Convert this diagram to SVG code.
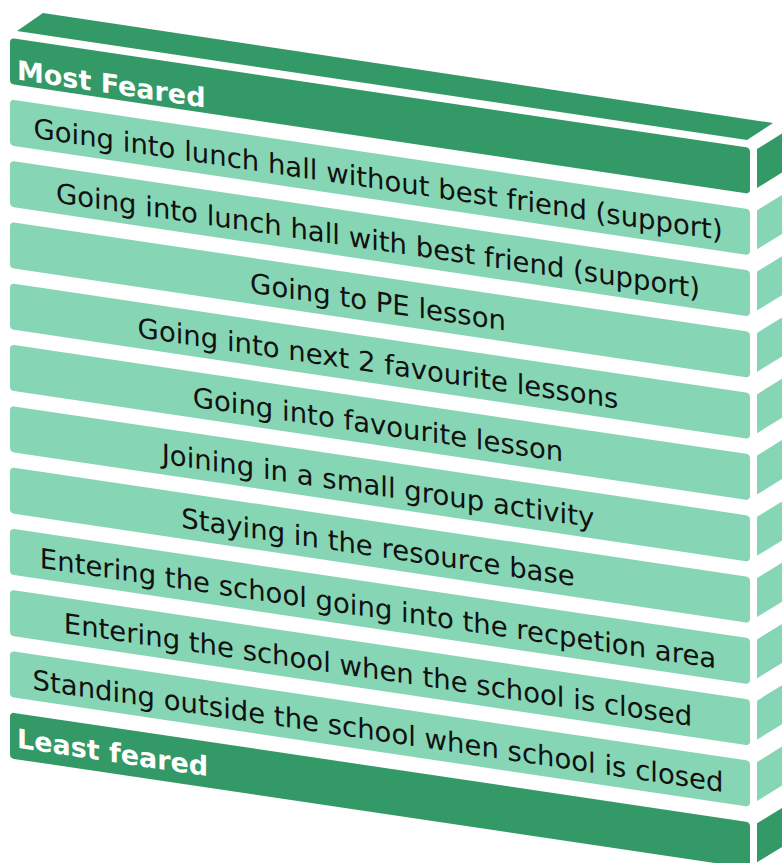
<svg xmlns="http://www.w3.org/2000/svg" width="782" height="863" viewBox="0 0 782 863">
<style>
.dark{fill:#339966}
.light{fill:#86d6b5}
.lbl{font-family:"DejaVu Sans","Verdana",sans-serif;font-size:27.5px;fill:#111;text-anchor:middle}
.head{font-family:"DejaVu Sans","Verdana",sans-serif;font-size:27px;font-weight:bold;fill:#fff}
</style>
<rect width="782" height="863" fill="#fff"/>
<g id="top-face"><polygon class="dark" points="17,31 43,13 773,123 747,140"/></g>
<g id="side-faces">
<polygon class="dark" points="757,149 783,133 783,172 757,188"/>
<polygon class="light" points="757,210.3 783,194.3 783,233.3 757,249.3"/>
<polygon class="light" points="757,271.6 783,255.6 783,294.6 757,310.6"/>
<polygon class="light" points="757,332.9 783,316.9 783,355.9 757,371.9"/>
<polygon class="light" points="757,394.2 783,378.2 783,417.2 757,433.2"/>
<polygon class="light" points="757,455.5 783,439.5 783,478.5 757,494.5"/>
<polygon class="light" points="757,516.8 783,500.8 783,539.8 757,555.8"/>
<polygon class="light" points="757,578.1 783,562.1 783,601.1 757,617.1"/>
<polygon class="light" points="757,639.4 783,623.4 783,662.4 757,678.4"/>
<polygon class="light" points="757,700.7 783,684.7 783,723.7 757,739.7"/>
<polygon class="light" points="757,762 783,746 783,785 757,801"/>
<polygon class="dark" points="757,823.3 783,807.3 783,846.3 757,862.3"/>
</g>
<g transform="matrix(1,0.1486,0,1,0,0)">
<g id="most-feared"><rect class="dark" x="10" y="36.5" width="740" height="46" rx="4"/><text class="head" x="17" y="77">Most Feared</text></g>
<g id="item1"><rect class="light" x="10" y="97.8" width="740" height="46" rx="4"/><text class="lbl" x="378" y="132.8">Going into lunch hall without best friend (support)</text></g>
<g id="item2"><rect class="light" x="10" y="159.1" width="740" height="46" rx="4"/><text class="lbl" x="378" y="194.1">Going into lunch hall with best friend (support)</text></g>
<g id="item3"><rect class="light" x="10" y="220.4" width="740" height="46" rx="4"/><text class="lbl" x="378" y="255.4">Going to PE lesson</text></g>
<g id="item4"><rect class="light" x="10" y="281.7" width="740" height="46" rx="4"/><text class="lbl" x="378" y="316.7">Going into next 2 favourite lessons</text></g>
<g id="item5"><rect class="light" x="10" y="343" width="740" height="46" rx="4"/><text class="lbl" x="378" y="378">Going into favourite lesson</text></g>
<g id="item6"><rect class="light" x="10" y="404.3" width="740" height="46" rx="4"/><text class="lbl" x="378" y="439.3">Joining in a small group activity</text></g>
<g id="item7"><rect class="light" x="10" y="465.6" width="740" height="46" rx="4"/><text class="lbl" x="378" y="500.6">Staying in the resource base</text></g>
<g id="item8"><rect class="light" x="10" y="526.9" width="740" height="46" rx="4"/><text class="lbl" x="378" y="561.9">Entering the school going into the recpetion area</text></g>
<g id="item9"><rect class="light" x="10" y="588.2" width="740" height="46" rx="4"/><text class="lbl" x="378" y="623.2">Entering the school when the school is closed</text></g>
<g id="item10"><rect class="light" x="10" y="649.5" width="740" height="46" rx="4"/><text class="lbl" x="378" y="684.5">Standing outside the school when school is closed</text></g>
<g id="least-feared"><rect class="dark" x="10" y="710.8" width="740" height="46" rx="4"/><text class="head" x="17" y="745.3">Least feared</text></g>
</g>
<g id="connectors"/>
</svg>
